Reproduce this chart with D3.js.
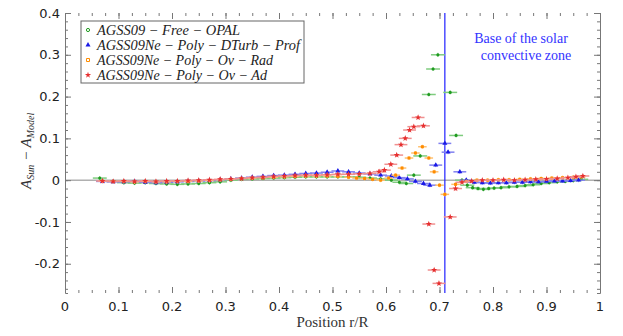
<!DOCTYPE html>
<html>
<head>
<meta charset="utf-8">
<script src="https://cdn.jsdelivr.net/npm/d3@7"></script>
<style>
  body { margin: 0; background: #fff; }
  svg { display: block; }
</style>
</head>
<body>
<svg id="chart"></svg>
<script>
// legend names
const seriesNames = [
  'AGSS09 − Free − OPAL',
  'AGSS09Ne − Poly − DTurb − Prof',
  'AGSS09Ne − Poly − Ov − Rad',
  'AGSS09Ne − Poly − Ov − Ad'
];

// AGSS09 - Free - OPAL (green)
const rGreen = [0.065, 0.09, 0.11, 0.13, 0.15, 0.17, 0.19, 0.21, 0.23, 0.25, 0.27, 0.29, 0.31, 0.33, 0.35, 0.37, 0.39, 0.41, 0.43, 0.45, 0.47, 0.49, 0.51, 0.53, 0.55, 0.57, 0.59, 0.61, 0.625, 0.638, 0.652, 0.664, 0.68, 0.688, 0.697, 0.72, 0.731, 0.742, 0.752, 0.762, 0.772, 0.782, 0.792, 0.802, 0.815, 0.83, 0.845, 0.86, 0.875, 0.89, 0.905, 0.92, 0.935, 0.95, 0.965];
const vGreen = [0.005, -0.003, -0.006, -0.007, -0.006, -0.008, -0.009, -0.010, -0.009, -0.008, -0.006, -0.004, 0.000, 0.002, 0.003, 0.004, 0.005, 0.006, 0.007, 0.008, 0.008, 0.008, 0.008, 0.008, 0.007, 0.005, 0.003, 0.000, -0.005, -0.008, 0.012, 0.058, 0.205, 0.266, 0.300, 0.210, 0.107, 0.000, -0.012, -0.018, -0.020, -0.022, -0.020, -0.019, -0.018, -0.016, -0.015, -0.013, -0.011, -0.008, -0.006, -0.004, -0.003, -0.001, 0.002];

// AGSS09Ne - Poly - DTurb - Prof (blue)
const rBlue = [0.07, 0.09, 0.11, 0.13, 0.15, 0.17, 0.19, 0.21, 0.23, 0.25, 0.27, 0.29, 0.31, 0.33, 0.35, 0.37, 0.39, 0.41, 0.43, 0.45, 0.47, 0.49, 0.51, 0.53, 0.55, 0.57, 0.59, 0.61, 0.625, 0.64, 0.655, 0.67, 0.682, 0.693, 0.71, 0.716, 0.738, 0.75, 0.765, 0.78, 0.795, 0.81, 0.825, 0.84, 0.855, 0.87, 0.885, 0.90, 0.915, 0.93, 0.945, 0.96];
const vBlue = [-0.003, -0.004, -0.004, -0.003, -0.005, -0.006, -0.005, -0.004, -0.003, -0.002, -0.001, 0.001, 0.003, 0.005, 0.007, 0.009, 0.011, 0.012, 0.014, 0.016, 0.017, 0.019, 0.022, 0.020, 0.017, 0.015, 0.012, 0.010, 0.006, 0.003, -0.003, -0.008, -0.012, 0.036, 0.088, 0.067, 0.020, 0.000, -0.005, -0.006, -0.007, -0.006, -0.006, -0.005, -0.005, -0.004, -0.004, -0.003, -0.002, -0.002, -0.001, 0.000];

// AGSS09Ne - Poly - Ov - Rad (orange)
const rOrange = [0.07, 0.09, 0.11, 0.13, 0.15, 0.17, 0.19, 0.21, 0.23, 0.25, 0.27, 0.29, 0.31, 0.33, 0.35, 0.37, 0.39, 0.41, 0.43, 0.45, 0.47, 0.49, 0.51, 0.53, 0.545, 0.56, 0.575, 0.59, 0.605, 0.618, 0.63, 0.643, 0.655, 0.668, 0.68, 0.69, 0.70, 0.71, 0.73, 0.75, 0.77, 0.79, 0.81, 0.83, 0.85, 0.87, 0.89, 0.91, 0.93, 0.95, 0.965];
const vOrange = [-0.002, -0.003, -0.003, -0.004, -0.003, -0.004, -0.004, -0.003, -0.003, -0.002, -0.001, 0.001, 0.002, 0.004, 0.005, 0.006, 0.007, 0.008, 0.009, 0.010, 0.010, 0.010, 0.009, 0.007, 0.005, 0.004, 0.002, 0.000, 0.005, 0.012, 0.029, 0.053, 0.065, 0.080, 0.053, 0.020, -0.012, -0.034, -0.010, -0.003, 0.000, 0.000, 0.001, 0.001, 0.002, 0.003, 0.004, 0.005, 0.006, 0.007, 0.008];

// AGSS09Ne - Poly - Ov - Ad (red)
const rRed = [0.07, 0.09, 0.11, 0.13, 0.15, 0.17, 0.19, 0.21, 0.23, 0.25, 0.27, 0.29, 0.31, 0.33, 0.35, 0.37, 0.39, 0.41, 0.43, 0.45, 0.47, 0.49, 0.51, 0.53, 0.55, 0.57, 0.587, 0.597, 0.609, 0.62, 0.628, 0.636, 0.644, 0.652, 0.66, 0.67, 0.68, 0.69, 0.699, 0.72, 0.73, 0.742, 0.76, 0.78, 0.80, 0.82, 0.84, 0.86, 0.88, 0.90, 0.92, 0.94, 0.955, 0.968];
const vRed = [-0.002, -0.003, -0.002, -0.003, -0.002, -0.003, -0.002, -0.002, -0.001, 0.000, 0.001, 0.002, 0.003, 0.004, 0.006, 0.007, 0.009, 0.010, 0.011, 0.012, 0.012, 0.013, 0.014, 0.014, 0.015, 0.016, 0.020, 0.024, 0.038, 0.060, 0.085, 0.100, 0.120, 0.128, 0.150, 0.130, -0.105, -0.215, -0.247, -0.088, -0.020, -0.005, -0.002, 0.000, 0.000, 0.001, 0.000, 0.001, 0.002, 0.003, 0.004, 0.006, 0.008, 0.010];

const xTicks = [0, 0.1, 0.2, 0.3, 0.4, 0.5, 0.6, 0.7, 0.8, 0.9, 1];
const yTicks = [-0.2, -0.1, 0, 0.1, 0.2, 0.3, 0.4];
const czBase = 0.71;

const width = 623, height = 336;
const margin = { top: 13, right: 23, bottom: 43, left: 65 };

const svg = d3.select('#chart').attr('width', width).attr('height', height);
svg.append('rect').attr('width', width).attr('height', height).attr('fill', '#fff');

const x = d3.scaleLinear().domain([0, 1]).range([margin.left, width - margin.right]);
const y = d3.scaleLinear().domain([-0.27, 0.4]).range([height - margin.bottom, margin.top]);

const series = [
  { r: rGreen, v: vGreen, color: '#1f9a1f', err: '#7fcc7f', sym: 'circle', xe: 0.013 },
  { r: rBlue, v: vBlue, color: '#1a1ae6', err: '#8080f0', sym: 'triangle', xe: 0.012 },
  { r: rOrange, v: vOrange, color: '#ff8c00', err: '#ffc070', sym: 'square', xe: 0.008 },
  { r: rRed, v: vRed, color: '#e62e2e', err: '#f09090', sym: 'star', xe: 0.012 }
];

function symbolPath(sym) {
  if (sym === 'triangle') return d3.symbol(d3.symbolTriangle, 11)();
  if (sym === 'square') return d3.symbol(d3.symbolSquare, 9)();
  if (sym === 'star') return d3.symbol(d3.symbolStar, 12)();
  return d3.symbol(d3.symbolCircle, 8)();
}

// zero line
svg.append('line')
  .attr('x1', x(0)).attr('x2', x(1))
  .attr('y1', y(0)).attr('y2', y(0))
  .attr('stroke', '#888').attr('stroke-width', 1);

// axes: left / right with lines, top / bottom ticks only
const yMinor = d3.range(-26, 41, 2).map(d => d / 100);
const xMinor = d3.range(0, 41).map(d => d / 40);

const axisColor = '#777';
function drawY(side) {
  const ax = side === 'left' ? d3.axisRight(y) : d3.axisLeft(y);
  const gx = side === 'left' ? x(0) : x(1);
  const g = svg.append('g').attr('transform', `translate(${gx},0)`)
    .call(ax.tickValues(yMinor).tickSize(3).tickFormat(''));
  g.selectAll('line, path').attr('stroke', axisColor);
  const g2 = svg.append('g').attr('transform', `translate(${gx},0)`)
    .call((side === 'left' ? d3.axisRight(y) : d3.axisLeft(y)).tickValues(yTicks).tickSize(6).tickFormat(''));
  g2.selectAll('line').attr('stroke', axisColor);
  g2.select('path').remove();
}
drawY('left');
drawY('right');

function drawX(pos) {
  const ax = pos === 'bottom' ? d3.axisTop(x) : d3.axisBottom(x);
  const gy = pos === 'bottom' ? y.range()[0] : y.range()[1];
  const g = svg.append('g').attr('transform', `translate(0,${gy})`)
    .call(ax.tickValues(xMinor).tickSize(3).tickFormat(''));
  g.selectAll('line').attr('stroke', axisColor);
  g.select('path').remove();
  const g2 = svg.append('g').attr('transform', `translate(0,${gy})`)
    .call((pos === 'bottom' ? d3.axisTop(x) : d3.axisBottom(x)).tickValues(xTicks).tickSize(6).tickFormat(''));
  g2.selectAll('line').attr('stroke', axisColor);
  g2.select('path').remove();
}
drawX('bottom');
drawX('top');

// tick labels
svg.append('g').selectAll('text').data(yTicks).join('text')
  .attr('x', x(0) - 5).attr('y', d => y(d)).attr('dy', '0.35em')
  .attr('text-anchor', 'end')
  .style('font-family', 'DejaVu Sans').style('font-size', '13px').attr('fill', '#222')
  .text(d => +d.toFixed(1));

svg.append('g').selectAll('text').data(xTicks).join('text')
  .attr('x', d => x(d)).attr('y', y.range()[0] + 18)
  .attr('text-anchor', 'middle')
  .style('font-family', 'DejaVu Sans').style('font-size', '13px').attr('fill', '#222')
  .text(d => +d.toFixed(1));

// axis titles
svg.append('text')
  .attr('x', (x(0) + x(1)) / 2).attr('y', 327)
  .attr('text-anchor', 'middle')
  .style('font-family', 'Liberation Serif').style('font-size', '15px').attr('fill', '#333')
  .text('Position r/R');

const yl = svg.append('text')
  .attr('transform', `translate(31,${y(0.07)}) rotate(-90)`)
  .attr('text-anchor', 'middle')
  .style('font-family', 'Liberation Serif').style('font-style', 'italic').style('font-size', '15px').attr('fill', '#333');
yl.append('tspan').text('A');
yl.append('tspan').attr('dy', 3).style('font-size', '10px').text('Sun');
yl.append('tspan').attr('dy', -3).text(' − A');
yl.append('tspan').attr('dy', 3).style('font-size', '10px').text('Model');

// base of convective zone
svg.append('line')
  .attr('x1', x(czBase)).attr('x2', x(czBase))
  .attr('y1', y.range()[1]).attr('y2', y.range()[0])
  .attr('stroke', '#2020ff').attr('stroke-width', 1.2);

svg.append('text').attr('x', 521).attr('y', 43).attr('text-anchor', 'middle')
  .style('font-family', 'Liberation Serif').style('font-size', '14px').attr('fill', '#3333ff')
  .text('Base of the solar');
svg.append('text').attr('x', 526).attr('y', 60).attr('text-anchor', 'middle')
  .style('font-family', 'Liberation Serif').style('font-size', '14px').attr('fill', '#3333ff')
  .text('convective zone');

// data: error bars then markers
series.forEach(s => {
  const pts = s.r.map((r, i) => ({ r, v: s.v[i] }));
  const g = svg.append('g');
  g.selectAll('line.h').data(pts).join('line')
    .attr('x1', d => x(d.r - s.xe)).attr('x2', d => x(d.r + s.xe))
    .attr('y1', d => y(d.v)).attr('y2', d => y(d.v))
    .attr('stroke', s.err).attr('stroke-width', 1.5);
  g.selectAll('line.v').data(pts).join('line')
    .attr('x1', d => x(d.r)).attr('x2', d => x(d.r))
    .attr('y1', d => y(d.v) - 2).attr('y2', d => y(d.v) + 2)
    .attr('stroke', s.err).attr('stroke-width', 1);
  g.selectAll('path.m').data(pts).join('path')
    .attr('transform', d => `translate(${x(d.r)},${y(d.v)})`)
    .attr('d', symbolPath(s.sym))
    .attr('fill', s.color);
});

// legend
const lg = svg.append('g');
lg.append('rect').attr('x', 81).attr('y', 21).attr('width', 223).attr('height', 62)
  .attr('fill', '#fff').attr('stroke', '#666').attr('stroke-width', 1);
const rowY = [30, 45, 60, 75];
const rowW = [143, 203, 176, 170];
series.forEach((s, i) => {
  lg.append('path').attr('transform', `translate(88,${rowY[i]})`)
    .attr('d', symbolPath(s.sym))
    .attr('fill', s.sym === 'circle' || s.sym === 'square' ? 'none' : s.color)
    .attr('stroke', s.sym === 'circle' || s.sym === 'square' ? s.color : 'none');
  lg.append('text').attr('x', 97).attr('y', rowY[i]).attr('dy', '0.33em')
    .attr('textLength', rowW[i]).attr('lengthAdjust', 'spacingAndGlyphs')
    .style('font-family', 'Liberation Serif').style('font-style', 'italic').style('font-size', '14px')
    .attr('fill', '#222')
    .text(seriesNames[i]);
});
</script>
</body>
</html>
